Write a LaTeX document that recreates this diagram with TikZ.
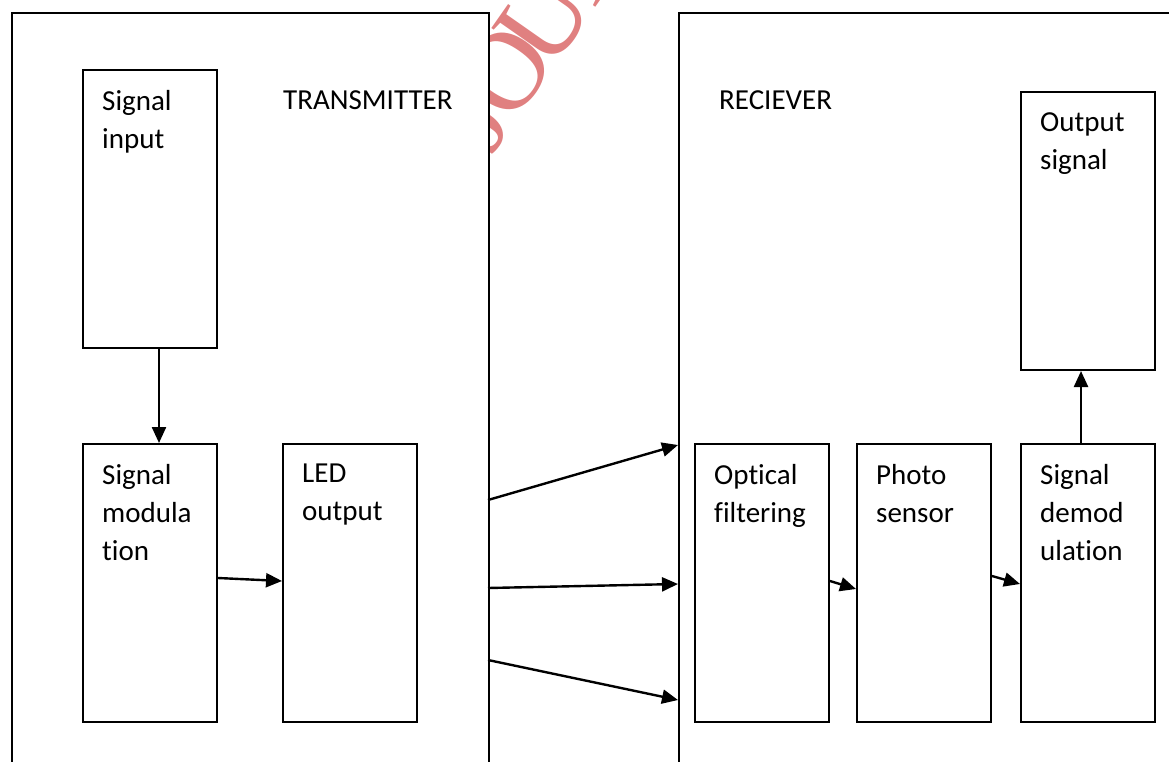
\documentclass[tikz,border=0pt]{standalone}
\usepackage{fontspec}
\setmainfont{Carlito}[Ligatures={NoCommon}]
\newfontfamily\markfont{Liberation Serif}
\usetikzlibrary{arrows.meta}
\definecolor{vlcInk}{HTML}{000000}
\definecolor{vlcMark}{HTML}{E08080}
\tikzset{
  vlc frame/.style={draw=vlcInk, fill=white, line width=2pt, anchor=north west, inner sep=0pt},
  vlc block/.style={draw=vlcInk, fill=white, line width=2pt, anchor=north west, inner sep=0pt, minimum width=134pt, minimum height=278pt},
  vlc text/.style={font=\fontsize{29}{38}\selectfont, align=left, anchor=north west, inner sep=0pt, xshift=20pt, yshift=-21pt},
  vlc title/.style={font=\fontsize{29}{38}\selectfont, anchor=base west, inner sep=0pt},
  vlc arrow/.style={draw=vlcInk, line width=2.4pt, -{Triangle[length=16pt,width=14pt]}},
  vlc mark/.style={font=\markfont\fontsize{112}{112}\selectfont, text=vlcMark, rotate=55, inner sep=0pt},
}

\begin{document}
\begin{tikzpicture}[x=1pt,y=-1pt]
  \useasboundingbox (0,0) rectangle (1169,762);
  \clip (0,0) rectangle (1169,762);

  % watermark behind the frames
  \node[vlc mark] (mark) at (534,32) {J\kern-.06em O\kern-.14em U\kern-.05em R};

  % transmitter and receiver frames
  \node[vlc frame, minimum width=477pt, minimum height=800pt] (tx) at (11,12) {};
  \node[vlc frame, minimum width=600pt, minimum height=800pt] (rx) at (678,12) {};
  \node[vlc title] (txname) at (283,110) {TRANSMITTER};
  \node[vlc title] (rxname) at (719,110) {RECIEVER};

  % blocks
  \node[vlc block, label={[vlc text]north west:{Signal\\input}}] (inp) at (82,69) {};
  \node[vlc block, label={[vlc text]north west:{Signal\\modula\\tion}}] (mod) at (82,443) {};
  \node[vlc block, label={[vlc text]north west:{LED\\output}}] (led) at (282,443) {};
  \node[vlc block, label={[vlc text]north west:{Optical\\filtering}}] (opt) at (694,443) {};
  \node[vlc block, label={[vlc text]north west:{Photo\\sensor}}] (pho) at (856,443) {};
  \node[vlc block, label={[vlc text]north west:{Signal\\demod\\ulation}}] (dem) at (1020,443) {};
  \node[vlc block, label={[vlc text]north west:{Output\\signal}}] (out) at (1020,91) {};

  % light beams
  \coordinate (beamA) at (488,500);
  \coordinate (beamB) at (488,588);
  \coordinate (beamC) at (488,660);
  \coordinate (hitA) at (678,445);
  \coordinate (hitB) at (678,584);
  \coordinate (hitC) at (678,700);

  \draw[vlc arrow] ([xshift=9pt]inp.south) -- ([xshift=9pt]mod.north);
  \draw[vlc arrow] ([yshift=5pt]mod.east) -- ([yshift=2pt]led.west);
  \draw[vlc arrow] (beamA) -- (hitA);
  \draw[vlc arrow] (beamB) -- (hitB);
  \draw[vlc arrow] (beamC) -- (hitC);
  \draw[vlc arrow] ([yshift=2pt]opt.east) -- ([yshift=-6pt]pho.west);
  \draw[vlc arrow] ([yshift=7pt]pho.east) -- ([yshift=-1pt]dem.west);
  \draw[vlc arrow] ([xshift=-7pt]dem.north) -- ([xshift=-7pt]out.south);
\end{tikzpicture}
\end{document}
